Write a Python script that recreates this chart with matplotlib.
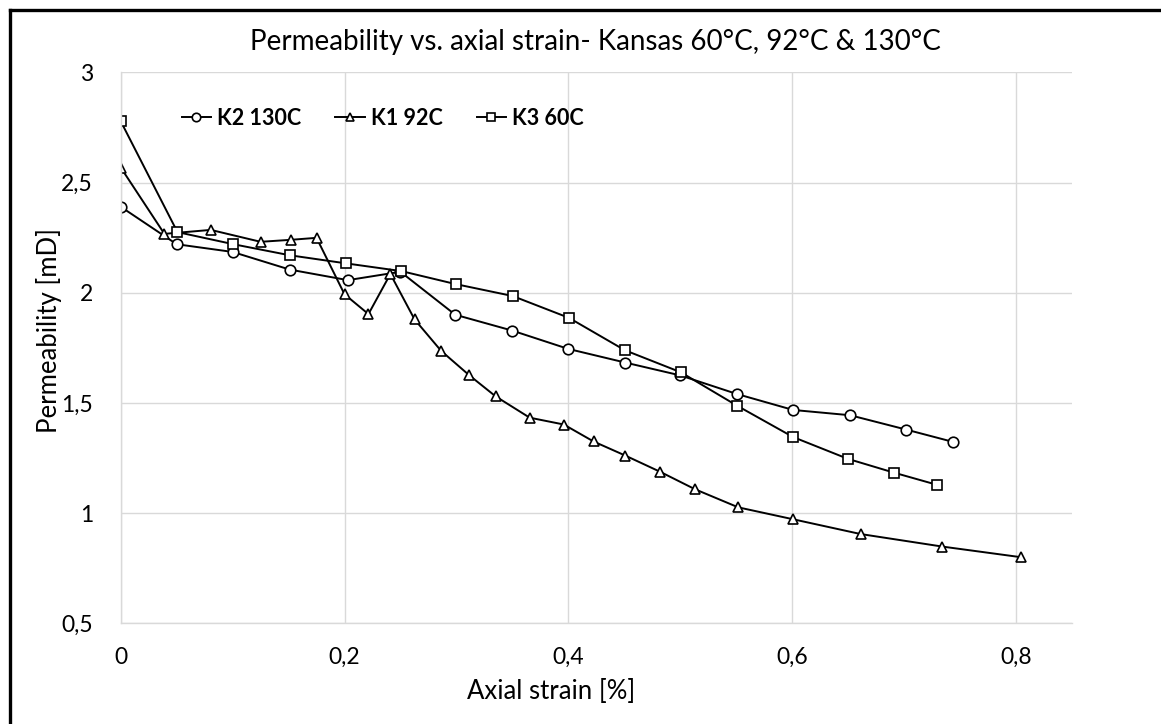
import matplotlib.pyplot as plt
from matplotlib.lines import Line2D

plt.rcParams['font.family'] = ['Lato', 'DejaVu Sans']

# Axial strain [%] and permeability [mD] for the three Kansas samples
k2_strain = [0, 0.05, 0.1, 0.151, 0.203, 0.25, 0.299, 0.35, 0.4, 0.451,
             0.5, 0.551, 0.601, 0.652, 0.702, 0.744]
k2_perm = [2.39, 2.22, 2.185, 2.105, 2.057, 2.095, 1.90, 1.828, 1.745, 1.683,
           1.625, 1.54, 1.468, 1.444, 1.379, 1.323]

k1_strain = [0, 0.039, 0.0805, 0.125, 0.152, 0.175, 0.2, 0.2214, 0.241, 0.2626,
             0.2864, 0.3116, 0.335, 0.3655, 0.396, 0.4226, 0.451, 0.4821,
             0.5134, 0.552, 0.601, 0.6613, 0.7345, 0.8045]
k1_perm = [2.568, 2.267, 2.285, 2.231, 2.24, 2.249, 1.993, 1.903, 2.085, 1.879,
           1.736, 1.625, 1.530, 1.433, 1.402, 1.325, 1.261, 1.1875,
           1.108, 1.026, 0.972, 0.905, 0.848, 0.800]

k3_strain = [0, 0.0507, 0.1007, 0.151, 0.2015, 0.2509, 0.2994, 0.3503, 0.4006,
             0.4506, 0.5006, 0.551, 0.601, 0.65, 0.6908, 0.7298]
k3_perm = [2.778, 2.275, 2.22, 2.17, 2.133, 2.098, 2.039, 1.985, 1.886,
           1.739, 1.639, 1.487, 1.345, 1.246, 1.184, 1.128]

x_ticks = [0, 0.2, 0.4, 0.6, 0.8]
x_tick_labels = ['0', '0,2', '0,4', '0,6', '0,8']
y_ticks = [0.5, 1, 1.5, 2, 2.5, 3]
y_tick_labels = ['0,5', '1', '1,5', '2', '2,5', '3']

fig = plt.figure(figsize=(11.61, 7.24), dpi=100)
ax = fig.add_axes([0.1040, 0.1391, 0.8191, 0.7610])

style = dict(color='black', linewidth=1.4, markerfacecolor='white',
             markeredgecolor='black', markeredgewidth=1.2)
ax.plot(k2_strain, k2_perm, marker='o', markersize=7.6, label='K2 130C', **style)
ax.plot(k1_strain, k1_perm, marker='^', markersize=7.8, label='K1 92C', **style)
ax.plot(k3_strain, k3_perm, marker='s', markersize=7.8, label='K3 60C', **style)

ax.set_xlim(0, 0.85)
ax.set_ylim(0.5, 3)
ax.set_xticks(x_ticks)
ax.set_xticklabels(x_tick_labels)
ax.set_yticks(y_ticks)
ax.set_yticklabels(y_tick_labels)
ax.tick_params(axis='both', length=0, labelsize=16.5)
ax.tick_params(axis='x', pad=17)
ax.tick_params(axis='y', pad=20)

ax.grid(True, color='#d9d9d9', linewidth=1.0)
ax.set_axisbelow(True)
for side in ['top', 'right']:
    ax.spines[side].set_visible(False)
for side in ['left', 'bottom']:
    ax.spines[side].set_color('#d9d9d9')
    ax.spines[side].set_linewidth(1.0)

ax.set_xlabel('Axial strain [%]', fontsize=18.5)
ax.xaxis.set_label_coords(0.453, -0.102)
ax.set_ylabel('Permeability [mD]', fontsize=18.5)
ax.yaxis.set_label_coords(-0.062, 0.531)

fig.text(595 / 1161, 1 - 50 / 724,
         'Permeability vs. axial strain- Kansas 60°C, 92°C & 130°C',
         fontsize=20, ha='center', va='baseline')

fig.legend(loc='center left', bbox_to_anchor=(181.7 / 1161, 1 - 118.3 / 724),
           ncol=3, frameon=False, borderpad=0, borderaxespad=0,
           handlelength=1.35, handletextpad=0.28, columnspacing=1.6,
           markerscale=0.8, prop={'weight': 'bold', 'size': 15.5})

# chart frame, cut off on the right and bottom
fig.add_artist(Line2D([9.5 / 1161, 9.5 / 1161], [0, 1 - 9.5 / 724],
                      transform=fig.transFigure, color='black', linewidth=2.4))
fig.add_artist(Line2D([9.5 / 1161, 1], [1 - 9.5 / 724, 1 - 9.5 / 724],
                      transform=fig.transFigure, color='black', linewidth=2.4))

fig.savefig('out.png', dpi=100)
